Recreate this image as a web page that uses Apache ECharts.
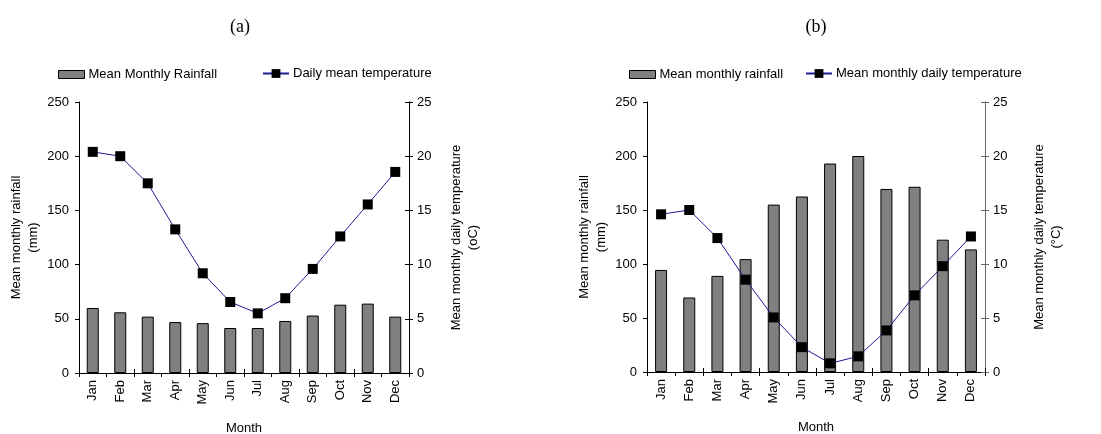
<!DOCTYPE html>
<html>
<head>
<meta charset="utf-8">
<script src="https://cdn.jsdelivr.net/npm/echarts@6/dist/echarts.min.js"></script>
<style>html,body{margin:0;padding:0;background:#fff}#c{width:1101px;height:434px}</style>
</head>
<body>
<div id="c"></div>
<script>
const months = ['Jan','Feb','Mar','Apr','May','Jun','Jul','Aug','Sep','Oct','Nov','Dec'];
const rainA = [60, 56, 52, 47, 46, 41.5, 41.5, 48, 53, 63, 64, 52];
const tempA = [20.4, 20.0, 17.5, 13.25, 9.2, 6.55, 5.5, 6.9, 9.6, 12.6, 15.55, 18.55];
const rainB = [94.5, 69, 89, 104.5, 155, 162.5, 193, 200, 169.5, 171.5, 122.5, 113.5];
const tempB = [14.6, 15.0, 12.4, 8.55, 5.05, 2.3, 0.8, 1.45, 3.85, 7.1, 9.8, 12.55];
const rainTicks = [0, 50, 100, 150, 200, 250];
const tempTicks = [0, 5, 10, 15, 20, 25];

const FONT = 'Liberation Sans, Arial, sans-serif';
const TXT = '#000';
const lineColor = '#1c1c94';

function xAxisCfg(gridIndex) {
  return {
    type: 'category', data: months, gridIndex: gridIndex, position: 'bottom',
    boundaryGap: true,
    axisLine: {lineStyle: {color: '#000', width: 1}},
    axisTick: {show: true, length: 4, lineStyle: {color: '#000'}},
    axisLabel: {rotate: 90, fontSize: 13, fontFamily: FONT, color: TXT, margin: 7, interval: 0},
    name: 'Month', nameLocation: 'middle', nameGap: 49,
    nameTextStyle: {fontSize: 13, fontFamily: FONT, color: TXT}
  };
}
function xInnerTickCfg(gridIndex) {
  return {
    type: 'category', data: months, gridIndex: gridIndex, position: 'bottom',
    boundaryGap: true,
    axisLine: {show: true, lineStyle: {color: '#000', width: 1}},
    axisTick: {show: true, inside: true, length: 4, lineStyle: {color: '#000'}},
    axisLabel: {show: false}
  };
}
function topAxisCfg(gridIndex, color) {
  return {
    type: 'category', data: months, gridIndex: gridIndex, position: 'top',
    axisLine: {show: true, lineStyle: {color: color, width: 1}},
    axisTick: {show: false}, axisLabel: {show: false}
  };
}
function leftAxisCfg(gridIndex, name, gap) {
  return {
    type: 'value', gridIndex: gridIndex, min: rainTicks[0], max: rainTicks[rainTicks.length-1], interval: 50,
    position: 'left',
    axisLine: {show: true, lineStyle: {color: '#000'}},
    axisTick: {show: true, length: 4, lineStyle: {color: '#000'}},
    splitLine: {show: false},
    axisLabel: {fontSize: 13, fontFamily: FONT, color: TXT, margin: 10},
    name: name, nameLocation: 'middle', nameGap: gap, nameRotate: 90,
    nameTextStyle: {fontSize: 13, fontFamily: FONT, color: TXT, lineHeight: 17}
  };
}
function rightAxisCfg(gridIndex, name, gap, color) {
  return {
    type: 'value', gridIndex: gridIndex, min: tempTicks[0], max: tempTicks[tempTicks.length-1], interval: 5,
    position: 'right',
    axisLine: {show: true, lineStyle: {color: color}},
    axisTick: {show: true, length: 4, lineStyle: {color: color}},
    splitLine: {show: false},
    axisLabel: {fontSize: 13, fontFamily: FONT, color: TXT, margin: 8},
    name: name, nameLocation: 'middle', nameGap: gap, nameRotate: 90,
    nameTextStyle: {fontSize: 13, fontFamily: FONT, color: TXT, lineHeight: 17}
  };
}
function rightInnerTickCfg(gridIndex, color) {
  return {
    type: 'value', gridIndex: gridIndex, min: tempTicks[0], max: tempTicks[tempTicks.length-1], interval: 5,
    position: 'right',
    axisLine: {show: true, lineStyle: {color: color}},
    axisTick: {show: true, inside: true, length: 4, lineStyle: {color: color}},
    splitLine: {show: false},
    axisLabel: {show: false}
  };
}
function barSeries(name, data, xi, yi) {
  return {
    type: 'bar', name: name, data: data, xAxisIndex: xi, yAxisIndex: yi,
    barWidth: 12,
    itemStyle: {color: '#808080', borderColor: '#000', borderWidth: 1},
    emphasis: {disabled: true}
  };
}
function lineSeries(name, data, xi, yi) {
  return {
    type: 'line', name: name, data: data, xAxisIndex: xi, yAxisIndex: yi,
    symbol: 'rect', symbolSize: 10, showSymbol: true,
    lineStyle: {color: lineColor, width: 1},
    itemStyle: {color: '#000', borderWidth: 0},
    z: 5, emphasis: {disabled: true}
  };
}
function legendCfg(name, left, isLine) {
  return {
    data: [name], left: left, top: isLine ? 67 : 68, itemWidth: 26, itemHeight: isLine ? 11 : 8, itemGap: 4,
    icon: isLine ? undefined : 'rect',
    itemStyle: isLine ? undefined : {color: '#808080', borderColor: '#000', borderWidth: 1},
    textStyle: {fontSize: 13, fontFamily: FONT, color: TXT, padding: [0,0,0,-1]},
    selectedMode: false, padding: 0
  };
}

const chart = echarts.init(document.getElementById('c'), null, {renderer: 'canvas'});
chart.setOption({
  animation: false,
  backgroundColor: '#fff',
  textStyle: {fontFamily: FONT},
  graphic: [
    {type: 'text', x: 240, y: 27, style: {text: '(a)', font: '18px "Liberation Serif", "Times New Roman", serif', fill: '#000', align: 'center', verticalAlign: 'middle'}},
    {type: 'text', x: 816, y: 27, style: {text: '(b)', font: '18px "Liberation Serif", "Times New Roman", serif', fill: '#000', align: 'center', verticalAlign: 'middle'}}
  ],
  legend: [
    legendCfg('Mean Monthly Rainfall', 58, false),
    legendCfg('Daily mean temperature', 262, true),
    legendCfg('Mean monthly rainfall', 629, false),
    legendCfg('Mean monthly daily temperature', 805, true)
  ],
  grid: [
    {left: 79, right: 692, top: 102, bottom: 61, containLabel: false, outerBoundsMode: 'none'},
    {left: 647, right: 116, top: 102, bottom: 62, containLabel: false, outerBoundsMode: 'none'}
  ],
  xAxis: [xAxisCfg(0), xAxisCfg(1), topAxisCfg(0, '#cccccc'), topAxisCfg(1, '#9a9a9a'), xInnerTickCfg(0), xInnerTickCfg(1)],
  yAxis: [
    leftAxisCfg(0, 'Mean monthly rainfall\n(mm)', 37),
    rightAxisCfg(0, 'Mean monthly daily temperature\n(oC)', 39, '#000'),
    leftAxisCfg(1, 'Mean monthly rainfall\n(mm)', 37),
    rightAxisCfg(1, 'Mean monthly daily temperature\n(°C)', 46, '#666'),
    rightInnerTickCfg(0, '#000'),
    rightInnerTickCfg(1, '#666')
  ],
  series: [
    barSeries('Mean Monthly Rainfall', rainA, 0, 0),
    lineSeries('Daily mean temperature', tempA, 0, 1),
    barSeries('Mean monthly rainfall', rainB, 1, 2),
    lineSeries('Mean monthly daily temperature', tempB, 1, 3)
  ]
});
</script>
</body>
</html>
